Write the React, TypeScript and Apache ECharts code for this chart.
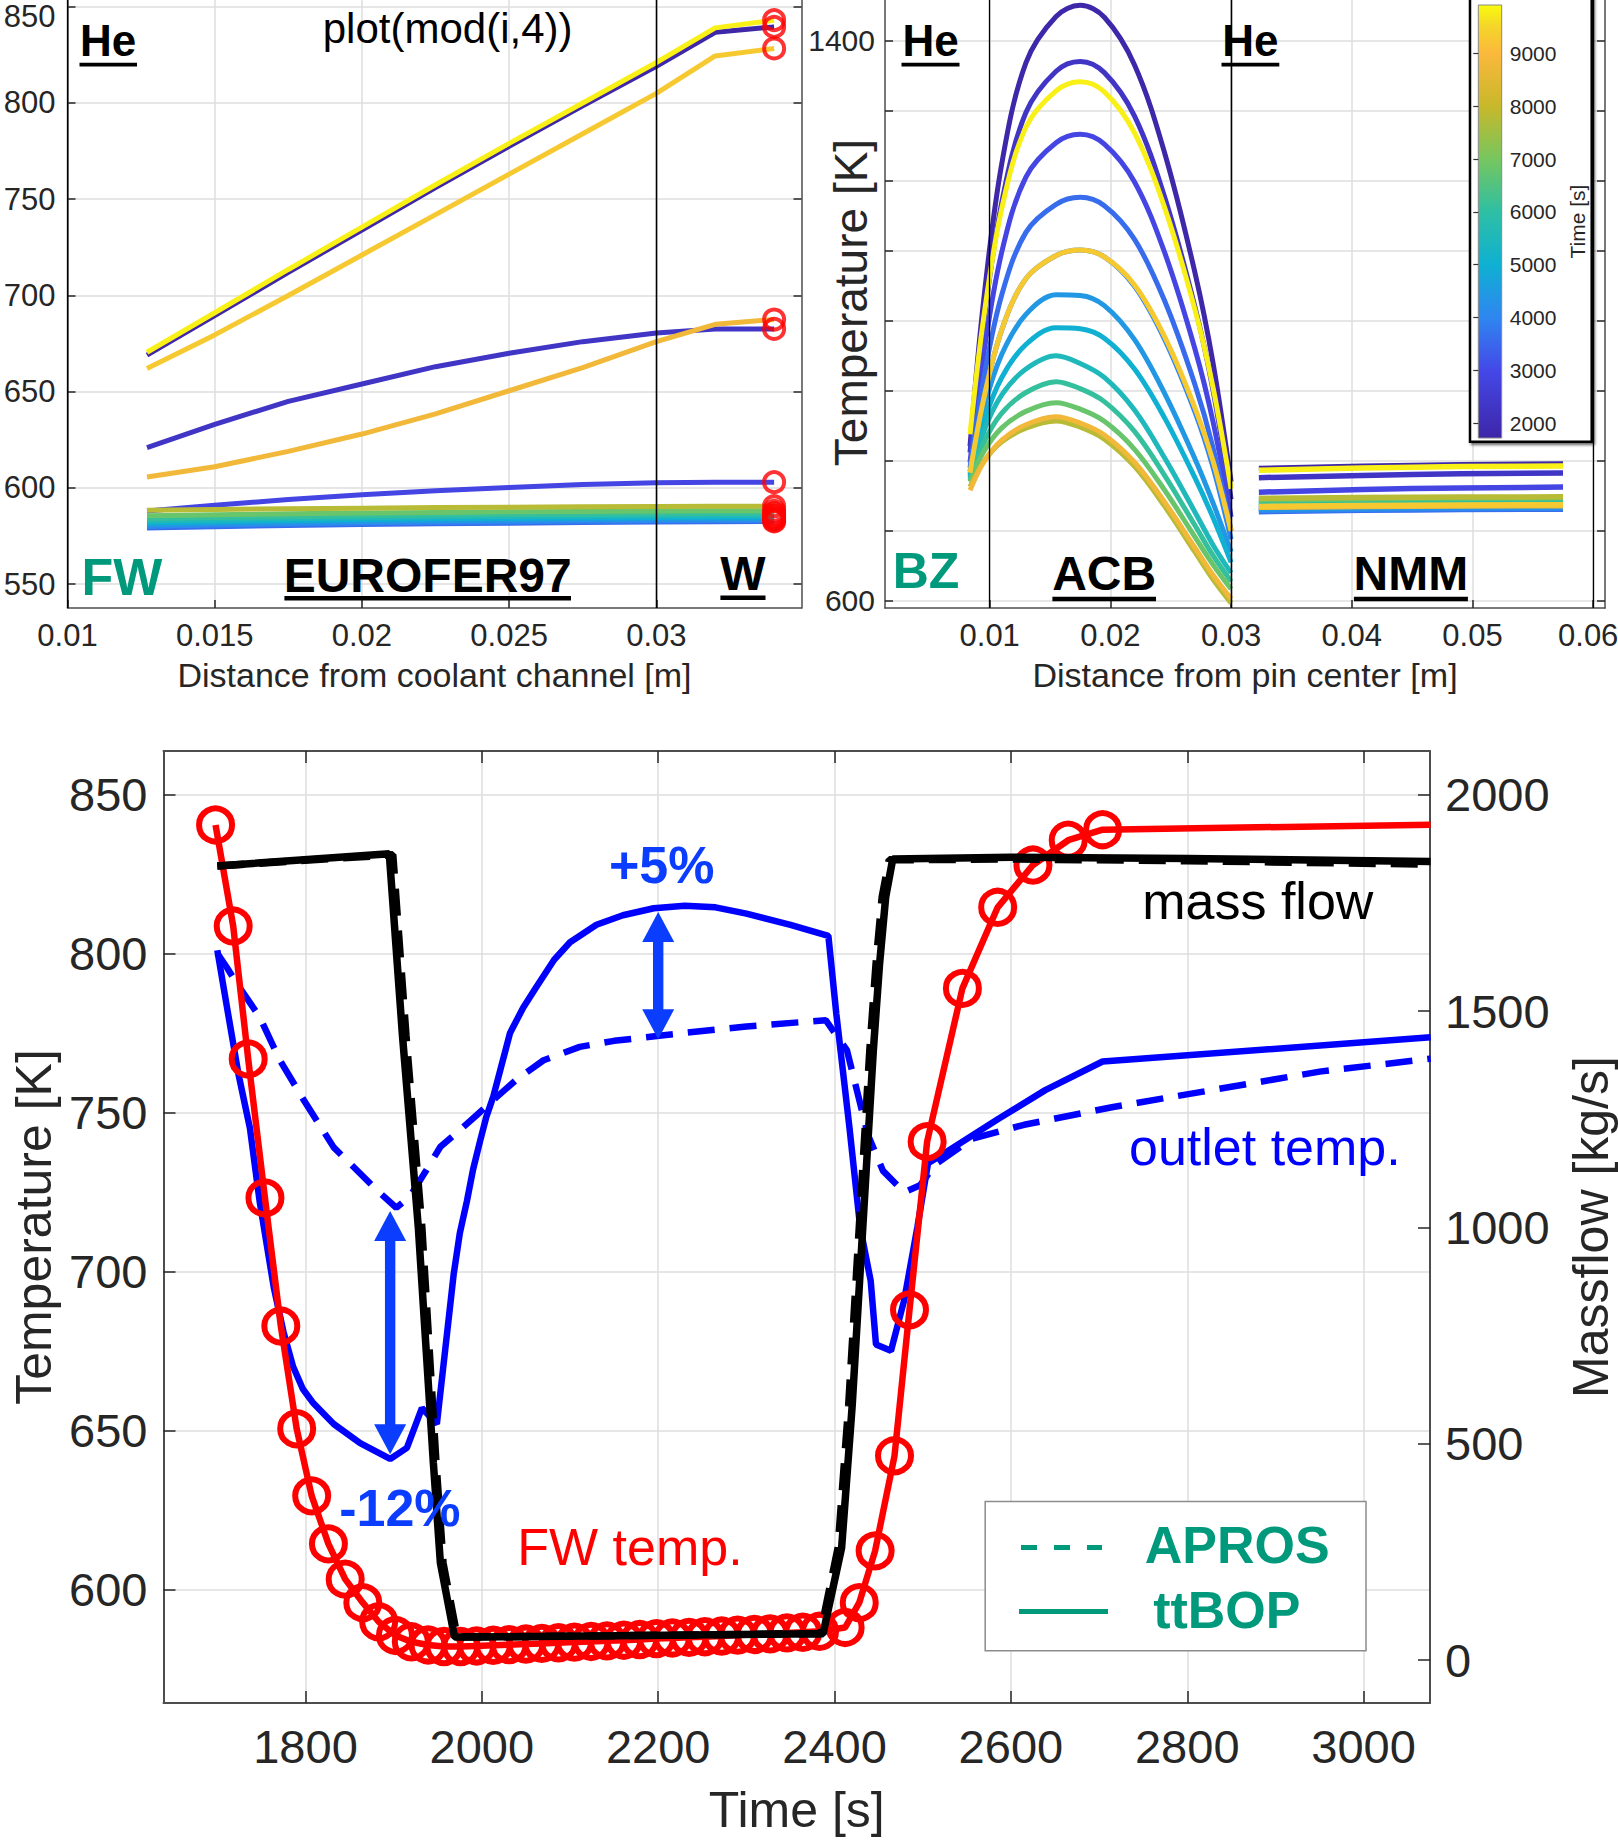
import React, { useEffect, useRef } from 'react';
import * as echarts from 'echarts';

const FONT = '"Liberation Sans", Arial, Helvetica, sans-serif';
const AX = '#262626';
const AXLINE = '#4d4d4d';
const GRIDC = '#dedede';
const TEAL = '#00997b';
const ARROW = '#0b3dff';

// ---------- colour bar (time of each snapshot) ----------
const CB_MIN = 1722;
const CB_MAX = 9914;
const cbTicks = [2000, 3000, 4000, 5000, 6000, 7000, 8000, 9000];
const parulaStops: [number, string][] = [
  [0.0, '#3e26a8'], [0.156, '#4448e8'], [0.278, '#2f86f0'], [0.4, '#0fb0d2'],
  [0.522, '#2ebfa4'], [0.644, '#76c65e'], [0.766, '#c8b82b'], [0.888, '#fbb83c'],
  [0.95, '#f5d52a'], [1.0, '#f9fb0e'],
];

// snapshot times [s]
const snapTimes = [1750, 2300, 2900, 3600, 4000, 4400, 5000, 5500, 6100, 6800, 7800, 8800, 9300, 9800];

// ---------- top-left: FW temperature profiles ----------
const fwX = [0.0127, 0.015, 0.0175, 0.02, 0.0225, 0.025, 0.0275, 0.03, 0.032, 0.034];
const fwProfiles = [
  [669, 689.5, 712, 734, 756, 777.5, 798.5, 819, 836.7, 839.5],
  [621, 633, 645, 654, 663, 670, 676, 680.5, 682.6, 682.6],
  [588, 591, 594, 596.5, 598.5, 600.3, 601.8, 602.7, 603, 603],
  [579.2, 579.9, 580.5, 581.0, 581.4, 581.7, 582.0, 582.3, 582.5, 582.6],
  [580.0, 580.7, 581.3, 581.8, 582.2, 582.5, 582.8, 583.0, 583.1, 583.2],
  [580.8, 581.5, 582.1, 582.6, 583.0, 583.3, 583.6, 583.8, 583.9, 583.9],
  [581.8, 582.5, 583.1, 583.6, 584.0, 584.3, 584.5, 584.7, 584.8, 584.8],
  [582.8, 583.4, 584.0, 584.5, 584.9, 585.2, 585.4, 585.6, 585.7, 585.7],
  [584.0, 584.6, 585.1, 585.5, 585.9, 586.2, 586.4, 586.6, 586.7, 586.8],
  [585.6, 586.1, 586.6, 587.0, 587.3, 587.6, 587.8, 588.0, 588.1, 588.1],
  [588.4, 588.8, 589.2, 589.5, 589.8, 590.0, 590.2, 590.4, 590.5, 590.5],
  [605.7, 611, 619, 628, 638.5, 650.5, 662.5, 676, 685, 687.5],
  [662, 679.5, 700, 721, 742, 763, 784, 805, 824.4, 828.3],
  [670.5, 691, 713.5, 735.5, 757.5, 779, 800, 821, 839, 843],
];
const fwBounds = [0.0127, 0.032, 0.034];
const fwXTicks = [0.01, 0.015, 0.02, 0.025, 0.03];
const fwYTicks = [550, 600, 650, 700, 750, 800, 850];

// ---------- top-right: BZ temperature profiles ----------
const acbX = [0.00837, 0.0095, 0.011, 0.013, 0.0155, 0.0175, 0.0195, 0.022, 0.0245, 0.027, 0.0285, 0.03];
const acbProfiles = [
  [821, 1029, 1224, 1368, 1434, 1450, 1433, 1365, 1239, 1069, 940, 770],
  [812, 996, 1169, 1297, 1356, 1370, 1354, 1292, 1176, 1020, 901, 745],
  [798, 952, 1098, 1205, 1254, 1266, 1252, 1198, 1097, 960, 856, 720],
  [790, 917, 1037, 1126, 1166, 1176, 1164, 1116, 1028, 909, 819, 700],
  [785, 889, 987, 1060, 1093, 1101, 1091, 1049, 973, 870, 791, 688],
  [781, 874, 952, 1009, 1037, 1036, 1021.5, 973, 896, 803, 740, 670],
  [778, 855, 919, 966, 990, 988.6, 975, 931, 861, 776, 719, 655],
  [775, 841.5, 894, 931, 950, 939, 919, 872.5, 804, 727, 680, 640],
  [772, 825.6, 868, 897.5, 913, 903, 884.5, 842, 779, 708, 665, 628],
  [770, 813, 847, 870.6, 883, 873.7, 856.4, 816.5, 758, 691.5, 652, 617],
  [763, 798.7, 827, 846.7, 857, 848, 831, 792, 735, 670, 631, 597],
  [758, 798, 829.4, 851.5, 863, 854, 837, 798, 741, 676, 637, 603],
  [783, 888, 987, 1060, 1093, 1101, 1091, 1051, 977, 876, 800, 700],
  [838, 1004, 1160, 1276, 1328, 1341, 1326.5, 1268, 1161, 1016, 905, 760],
];
const nmmX = [0.0323, 0.045, 0.0575];
const nmmProfiles = [
  [789, 793.5, 795.5],
  [776, 780.5, 782.7],
  [755.3, 760.5, 762.5],
  [727.5, 730, 731],
  [729, 731.5, 732.5],
  [731, 733.5, 734.5],
  [735, 737.5, 738.5],
  [738.5, 740.5, 741.5],
  [741.5, 743.5, 744.5],
  [744.5, 746.5, 747.3],
  [746.6, 748, 748.6],
  [733.6, 735.3, 736],
  [735, 736.8, 737.5],
  [786.5, 791, 792.8],
];
const bzBounds = [0.00837, 0.03, 0.0323, 0.0575];
const bzXTicks = [0.01, 0.02, 0.03, 0.04, 0.05, 0.06];
const bzYTicks = [600, 700, 800, 900, 1000, 1100, 1200, 1300, 1400];
const bzYLabels = [600, 1400];

// ---------- bottom: transient ----------
const timeTicks = [1800, 2000, 2200, 2400, 2600, 2800, 3000];
const tempTicks = [600, 650, 700, 750, 800, 850];
const massTicks = [0, 500, 1000, 1500, 2000];

// FW temperature (ttBOP) with markers
const fwTempT = [1698, 1718, 1735, 1754, 1772, 1790, 1807, 1826, 1845, 1865, 1883, 1902, 1920, 1939, 1957, 1976, 1994, 2013, 2031, 2050, 2068, 2087, 2105, 2124, 2142, 2161, 2179, 2198, 2216, 2235, 2253, 2272, 2290, 2309, 2327, 2346, 2364, 2383, 2412, 2428, 2446, 2468, 2485, 2505, 2545, 2585, 2625, 2665, 2704, 3076];
const fwTempV = [840.4, 808.6, 766.8, 723.1, 682.8, 650.5, 629.4, 614.3, 603.2, 595.8, 589.8, 585.5, 583.5, 582.5, 582, 582, 582.2, 582.4, 582.6, 582.8, 583, 583.2, 583.4, 583.6, 583.8, 584, 584.2, 584.5, 584.7, 584.9, 585.1, 585.3, 585.6, 585.8, 586, 586.3, 586.5, 586.8, 588, 595.8, 612.1, 642, 687.9, 740.8, 789, 814.5, 827.8, 835.6, 838.9, 840.5];

// outlet temperature ttBOP (solid)
const outTtT = [1700, 1711, 1724, 1737, 1748, 1764, 1775, 1786, 1797, 1809, 1832, 1862, 1896, 1915, 1932, 1949, 1968, 1975, 1983, 1990, 1998, 2005, 2013, 2032, 2047, 2062, 2082, 2100, 2130, 2160, 2195, 2230, 2265, 2300, 2350, 2393, 2402, 2417, 2429, 2441, 2447, 2464, 2479, 2494, 2506, 2521, 2586, 2639, 2704, 3076];
const outTtV = [801, 783, 762, 745, 722, 695, 681, 670, 663, 658.5, 652, 646, 641, 644.5, 657, 652, 699, 712, 722, 732, 741, 748.5, 755, 775, 783, 789.5, 798, 803.5, 809, 812, 814.2, 815, 814.5, 812.5, 809, 805.5, 781, 745, 714, 697, 677, 675, 691, 714, 734, 736.5, 748, 757, 766, 773.6];

// outlet temperature APROS (dashed)
const outApT = [1700, 1711, 1722, 1748, 1771, 1798, 1832, 1862, 1881, 1903, 1918, 1937, 1953, 1975, 1994, 2013, 2040, 2070, 2111, 2150, 2201, 2250, 2300, 2390, 2414, 2438, 2455, 2479, 2497, 2515, 2556, 2615, 2716, 2834, 2952, 3076];
const outApV = [800, 795.5, 790.6, 780, 766.4, 753.9, 739, 730.8, 725.5, 720, 723.4, 731.8, 739.2, 744.4, 749.1, 753.9, 760.5, 766.4, 770.6, 772.5, 774.1, 775.6, 777, 779, 769.6, 742.8, 731.6, 724.9, 727.1, 733.8, 741.7, 746.1, 751.7, 757.3, 762.9, 766.9];

// mass flow ttBOP (solid) and APROS (dashed)
const massTtT = [1700, 1895, 1910, 1928, 1945, 1953, 1969, 2150, 2387, 2408, 2420, 2432, 2444, 2451, 2458, 2466, 2600, 2800, 3076];
const massTtV = [1836, 1864, 1443, 999, 456, 224, 53, 56, 61, 259, 588, 999, 1410, 1608, 1764, 1852, 1856, 1853, 1846];
const massApT = [1700, 1899, 1914, 1932, 1948, 1956, 1972, 2150, 2384, 2404, 2416, 2428, 2440, 2447, 2454, 2462, 2600, 2800, 3076];
const massApV = [1836, 1862, 1443, 999, 456, 224, 53, 56, 61, 259, 588, 999, 1410, 1608, 1764, 1850, 1852, 1848, 1840];

// double arrows [time, top T, bottom T]
const arrowT = [2200, 1896];
const arrowTop = [813, 719];
const arrowBot = [773, 642.5];

// annotations (data coords)
const annoText = ['+5%', '-12%', 'FW temp.', 'mass flow', 'outlet temp.'];
const annoT = [2204, 1907, 2168, 2880, 2888];
const annoY = [827.7, 625.5, 613.2, 816.6, 739.1];

// ---------- helpers (styling only) ----------
function hex2rgb(h: string) {
  return [parseInt(h.slice(1, 3), 16), parseInt(h.slice(3, 5), 16), parseInt(h.slice(5, 7), 16)];
}
function colorOf(t: number) {
  const f = Math.max(0, Math.min(1, (t - CB_MIN) / (CB_MAX - CB_MIN)));
  for (let i = 1; i < parulaStops.length; i++) {
    if (f <= parulaStops[i][0]) {
      const [f0, c0] = parulaStops[i - 1];
      const [f1, c1] = parulaStops[i];
      const u = (f - f0) / (f1 - f0);
      const a = hex2rgb(c0), b = hex2rgb(c1);
      const c = a.map((v, k) => Math.round(v + (b[k] - v) * u));
      return `rgb(${c[0]},${c[1]},${c[2]})`;
    }
  }
  return parulaStops[parulaStops.length - 1][1];
}
const fmt = (v: number) => String(v);

function tick(len: number, values: number[]) {
  return { show: true, inside: true, length: len, customValues: values, lineStyle: { color: AX, width: 1.5 } };
}
function aline(w = 1.5) {
  return { show: true, onZero: false, lineStyle: { color: AXLINE, width: w } };
}

export default function App() {
  const ref = useRef<HTMLDivElement>(null);
  useEffect(() => {
    document.body.style.margin = '0';
    document.body.style.overflow = 'hidden';
    const chart = echarts.init(ref.current!, undefined, { renderer: 'svg' });

    const series: any[] = [];

    // top-left lines
    snapTimes.forEach((t, i) => {
      series.push({
        type: 'line', xAxisIndex: 0, yAxisIndex: 0, symbol: 'none', z: 2,
        data: fwX.map((x, k) => [x, fwProfiles[i][k]]),
        lineStyle: { color: colorOf(t), width: 5 }, itemStyle: { color: colorOf(t) },
      });
    });
    series.push({
      type: 'scatter', xAxisIndex: 0, yAxisIndex: 0, z: 4, symbol: 'circle', symbolSize: 20,
      data: fwProfiles.map((p) => [fwX[fwX.length - 1], p[p.length - 1]]),
      itemStyle: { color: 'rgba(0,0,0,0)', borderColor: '#ff0000', borderWidth: 4 },
    });
    series.push({
      type: 'line', xAxisIndex: 0, yAxisIndex: 0, data: [], z: 5,
      markLine: {
        silent: true, symbol: ['none', 'none'], label: { show: false },
        lineStyle: { color: '#000', width: 1.3, type: 'solid' },
        data: fwBounds.map((v) => ({ xAxis: v })),
      },
    });

    // top-right lines
    snapTimes.forEach((t, i) => {
      series.push({
        type: 'line', xAxisIndex: 1, yAxisIndex: 2, symbol: 'none', z: 2, smooth: 0.35,
        data: acbX.map((x, k) => [x, acbProfiles[i][k]]),
        lineStyle: { color: colorOf(t), width: 5 }, itemStyle: { color: colorOf(t) },
      });
      series.push({
        type: 'line', xAxisIndex: 1, yAxisIndex: 2, symbol: 'none', z: 2, smooth: 0.4,
        data: nmmX.map((x, k) => [x, nmmProfiles[i][k]]),
        lineStyle: { color: colorOf(t), width: 5.5 }, itemStyle: { color: colorOf(t) },
      });
    });
    series.push({
      type: 'line', xAxisIndex: 1, yAxisIndex: 2, data: [], z: 5,
      markLine: {
        silent: true, symbol: ['none', 'none'], label: { show: false },
        lineStyle: { color: '#000', width: 1.3, type: 'solid' },
        data: bzBounds.map((v) => ({ xAxis: v })),
      },
    });

    // bottom
    series.push({
      type: 'line', xAxisIndex: 2, yAxisIndex: 4, z: 2, symbol: 'none',
      data: outApT.map((t, k) => [t, outApV[k]]),
      lineStyle: { color: '#0000ff', width: 6.5, type: [27, 15] }, itemStyle: { color: '#0000ff' },
    });
    series.push({
      type: 'line', xAxisIndex: 2, yAxisIndex: 4, z: 2, symbol: 'none',
      data: outTtT.map((t, k) => [t, outTtV[k]]),
      lineStyle: { color: '#0000ff', width: 6.5 }, itemStyle: { color: '#0000ff' },
    });
    series.push({
      type: 'line', xAxisIndex: 2, yAxisIndex: 4, z: 3, symbol: 'circle', symbolSize: 33,
      data: fwTempT.map((t, k) =>
        k === fwTempT.length - 1 ? { value: [t, fwTempV[k]], symbol: 'none' } : [t, fwTempV[k]]
      ),
      lineStyle: { color: '#ff0000', width: 6.5 },
      itemStyle: { color: 'rgba(0,0,0,0)', borderColor: '#ff0000', borderWidth: 6 },
    });
    series.push({
      type: 'line', xAxisIndex: 2, yAxisIndex: 5, z: 4, symbol: 'none',
      data: massApT.map((t, k) => [t, massApV[k]]),
      lineStyle: { color: '#000', width: 7.5, type: [27, 15] }, itemStyle: { color: '#000' },
    });
    series.push({
      type: 'line', xAxisIndex: 2, yAxisIndex: 5, z: 4, symbol: 'none',
      data: massTtT.map((t, k) => [t, massTtV[k]]),
      lineStyle: { color: '#000', width: 7.5 }, itemStyle: { color: '#000' },
    });
    series.push({
      type: 'custom', xAxisIndex: 2, yAxisIndex: 4, z: 5,
      data: arrowT.map((t, k) => [t, arrowTop[k], arrowBot[k]]),
      renderItem: (params: any, api: any) => {
        const p1 = api.coord([api.value(0), api.value(1)]);
        const p2 = api.coord([api.value(0), api.value(2)]);
        const x = p1[0], y1 = p1[1], y2 = p2[1];
        const hw = 16, hl = 30, sw = 5.2;
        return {
          type: 'polygon',
          shape: {
            points: [
              [x, y1], [x + hw, y1 + hl], [x + sw, y1 + hl], [x + sw, y2 - hl], [x + hw, y2 - hl],
              [x, y2], [x - hw, y2 - hl], [x - sw, y2 - hl], [x - sw, y1 + hl], [x - hw, y1 + hl],
            ],
          },
          style: { fill: ARROW },
        };
      },
    });
    const annoColor = [ARROW, ARROW, '#ff0000', '#000000', '#0000ff'];
    const annoBold = [true, true, false, false, false];
    series.push({
      type: 'custom', xAxisIndex: 2, yAxisIndex: 4, z: 6,
      data: annoT.map((t, k) => [t, annoY[k]]),
      renderItem: (params: any, api: any) => {
        const i = params.dataIndex;
        const p = api.coord([api.value(0), api.value(1)]);
        return {
          type: 'text', x: p[0], y: p[1],
          style: {
            text: annoText[i], fill: annoColor[i],
            font: `${annoBold[i] ? 'bold ' : ''}52px ${FONT}`,
            align: 'center', verticalAlign: 'middle',
          },
        };
      },
    });

    const labelTxt = (text: string, x: number, y: number, size: number, color = '#000', bold = true) => ({
      type: 'text', x, y, z: 20,
      style: { text, fill: color, font: `${bold ? 'bold ' : ''}${size}px ${FONT}`, align: 'center', verticalAlign: 'middle' },
    });
    const uline = (x1: number, x2: number, y: number, h: number) => ({
      type: 'rect', z: 20, shape: { x: x1, y, width: x2 - x1, height: h }, style: { fill: '#000' },
    });

    const option: any = {
      animation: false,
      textStyle: { fontFamily: FONT },
      grid: [
        { left: 67.5, top: -3, width: 734, height: 611, containLabel: false, outerBoundsMode: 'none' },
        { left: 885, top: -3, width: 720, height: 611, containLabel: false, outerBoundsMode: 'none' },
        { left: 163.5, top: 751, width: 1266.5, height: 952, containLabel: false, outerBoundsMode: 'none' },
        { left: 1478.3, top: 5, width: 23.4, height: 433, containLabel: false, outerBoundsMode: 'none' },
      ],
      xAxis: [
        {
          gridIndex: 0, type: 'value', position: 'bottom', min: 0.01, max: 0.03493,
          axisLine: aline(), axisTick: tick(8, fwXTicks),
          axisLabel: { customValues: fwXTicks, formatter: fmt, fontSize: 31, color: AX, margin: 12 },
          splitLine: { show: true, lineStyle: { color: GRIDC, width: 1.5 } },
          name: 'Distance from coolant channel [m]', nameLocation: 'middle', nameGap: 50, nameMoveOverlap: false,
          nameTextStyle: { fontSize: 34, color: AX },
        },
        {
          gridIndex: 1, type: 'value', position: 'bottom', min: 0.001326, max: 0.060978,
          axisLine: aline(), axisTick: tick(8, bzXTicks),
          axisLabel: {
            customValues: bzXTicks, fontSize: 31, color: AX, margin: 12,
            formatter: (v: number) => (v >= 0.06 ? `{r|${v}}` : String(v)),
            rich: { r: { fontSize: 31, color: AX, padding: [0, 10, 0, 0] } },
          },
          splitLine: { show: true, lineStyle: { color: GRIDC, width: 1.5 } },
          name: 'Distance from pin center [m]', nameLocation: 'middle', nameGap: 50, nameMoveOverlap: false,
          nameTextStyle: { fontSize: 34, color: AX },
        },
        {
          gridIndex: 2, type: 'value', position: 'bottom', min: 1638.96, max: 3075.3,
          axisLine: aline(2), axisTick: tick(12, timeTicks),
          axisLabel: { customValues: timeTicks, formatter: fmt, fontSize: 47, color: AX, margin: 20 },
          splitLine: { show: true, lineStyle: { color: GRIDC, width: 1.5 } },
          name: 'Time [s]', nameLocation: 'middle', nameGap: 82, nameMoveOverlap: false,
          nameTextStyle: { fontSize: 50, color: AX },
        },
        {
          gridIndex: 2, type: 'value', position: 'top', min: 1638.96, max: 3075.3,
          axisLine: aline(2), axisTick: tick(12, timeTicks),
          axisLabel: { show: false }, splitLine: { show: false },
        },
        { gridIndex: 3, type: 'value', min: 0, max: 1, show: false },
      ],
      yAxis: [
        {
          gridIndex: 0, type: 'value', position: 'left', min: 537.64, max: 855.04,
          axisLine: aline(), axisTick: tick(8, fwYTicks),
          axisLabel: {
            customValues: fwYTicks, fontSize: 31, color: AX, margin: 12,
            formatter: (v: number) => (v >= 850 ? `{t|${v}}` : String(v)),
            rich: { t: { fontSize: 31, color: AX, padding: [20, 0, 0, 0] } },
          },
          splitLine: { show: true, lineStyle: { color: GRIDC, width: 1.5 } },
        },
        {
          gridIndex: 0, type: 'value', position: 'right', min: 537.64, max: 855.04,
          axisLine: aline(), axisTick: tick(8, fwYTicks), axisLabel: { show: false }, splitLine: { show: false },
        },
        {
          gridIndex: 1, type: 'value', position: 'left', min: 590, max: 1461.9,
          axisLine: aline(), axisTick: tick(8, bzYTicks),
          axisLabel: { customValues: bzYLabels, formatter: fmt, fontSize: 30, color: AX, margin: 10 },
          splitLine: { show: true, lineStyle: { color: GRIDC, width: 1.5 } },
          name: 'Temperature [K]', nameLocation: 'middle', nameRotate: 90, nameGap: 11, nameMoveOverlap: false,
          nameTextStyle: { fontSize: 46, color: AX },
        },
        {
          gridIndex: 1, type: 'value', position: 'right', min: 590, max: 1461.9,
          axisLine: aline(), axisTick: tick(8, bzYTicks), axisLabel: { show: false }, splitLine: { show: false },
        },
        {
          gridIndex: 2, type: 'value', position: 'left', min: 564.25, max: 863.66,
          axisLine: aline(2), axisTick: tick(12, tempTicks),
          axisLabel: { customValues: tempTicks, formatter: fmt, fontSize: 47, color: AX, margin: 16 },
          splitLine: { show: true, lineStyle: { color: GRIDC, width: 1.5 } },
          name: 'Temperature [K]', nameLocation: 'middle', nameRotate: 90, nameGap: 105, nameMoveOverlap: false,
          nameTextStyle: { fontSize: 50, color: AX },
        },
        {
          gridIndex: 2, type: 'value', position: 'right', min: -99.4, max: 2101.7,
          axisLine: aline(2), axisTick: tick(12, massTicks),
          axisLabel: { customValues: massTicks, formatter: fmt, fontSize: 47, color: AX, margin: 15 },
          splitLine: { show: false },
          name: 'Massflow [kg/s]', nameLocation: 'middle', nameRotate: 90, nameGap: 136, nameMoveOverlap: false,
          nameTextStyle: { fontSize: 50, color: AX },
        },
        {
          gridIndex: 3, type: 'value', position: 'right', min: CB_MIN, max: CB_MAX, z: 8,
          axisLine: { show: false }, axisTick: { show: true, inside: true, length: 5, customValues: cbTicks, lineStyle: { color: '#333', width: 1.2 } },
          axisLabel: { customValues: cbTicks, formatter: fmt, fontSize: 21, color: AX, margin: 8 },
          splitLine: { show: false },
          name: 'Time [s]', nameLocation: 'middle', nameRotate: 90, nameGap: 65, nameMoveOverlap: false,
          nameTextStyle: { fontSize: 21, color: AX },
        },
      ],
      series,
      graphic: {
        elements: [
          // colour bar
          {
            type: 'rect', z: 5, shape: { x: 1470, y: -3, width: 121.7, height: 444.7 },
            style: { fill: '#fff', stroke: '#000', lineWidth: 2.5, shadowBlur: 3, shadowOffsetX: 2, shadowOffsetY: 2, shadowColor: 'rgba(0,0,0,0.6)' },
          },
          {
            type: 'rect', z: 6, shape: { x: 1478.3, y: 5, width: 23.4, height: 433 },
            style: {
              fill: new echarts.graphic.LinearGradient(0, 1, 0, 0, parulaStops.map(([o, c]) => ({ offset: o, color: c }))),
              stroke: '#888', lineWidth: 1,
            },
          },
          // top-left labels
          labelTxt('He', 108.2, 40.8, 44),
          uline(79.5, 137, 62.8, 3.6),
          labelTxt('plot(mod(i,4))', 447.6, 28, 42, '#000', false),
          labelTxt('FW', 121.8, 576.5, 52, TEAL),
          labelTxt('EUROFER97', 427.7, 575.4, 48),
          uline(284.4, 571, 596, 4.4),
          labelTxt('W', 743, 573.4, 48),
          uline(720.4, 765.5, 595.5, 4.5),
          // top-right labels
          labelTxt('He', 930.5, 40.8, 44),
          uline(901.5, 959.5, 62.8, 3.6),
          labelTxt('He', 1250.3, 40.8, 44),
          uline(1221.5, 1279.3, 62.8, 3.6),
          labelTxt('BZ', 926, 570.7, 50, TEAL),
          labelTxt('ACB', 1104.2, 573.4, 48),
          uline(1052.4, 1156, 596.8, 4.5),
          labelTxt('NMM', 1410.9, 573.4, 48),
          uline(1353.9, 1467.9, 596.8, 4.5),
          // bottom legend
          {
            type: 'rect', z: 10, shape: { x: 985.2, y: 1501.5, width: 380.8, height: 149.2 },
            style: { fill: '#fff', stroke: '#8c8c8c', lineWidth: 1.5 },
          },
          {
            type: 'line', z: 11, shape: { x1: 1021, y1: 1547.5, x2: 1102, y2: 1547.5 },
            style: { stroke: TEAL, lineWidth: 5, lineDash: [16, 17] },
          },
          {
            type: 'line', z: 11, shape: { x1: 1019, y1: 1611.5, x2: 1108, y2: 1611.5 },
            style: { stroke: TEAL, lineWidth: 5 },
          },
          labelTxt('APROS', 1237.2, 1545, 52, TEAL),
          labelTxt('ttBOP', 1226.8, 1610, 52, TEAL),
        ],
      },
    };
    chart.setOption(option);
    return () => chart.dispose();
  }, []);
  return <div ref={ref} style={{ position: 'absolute', left: 0, top: 0, width: 1618, height: 1845, background: '#fff' }} />;
}
